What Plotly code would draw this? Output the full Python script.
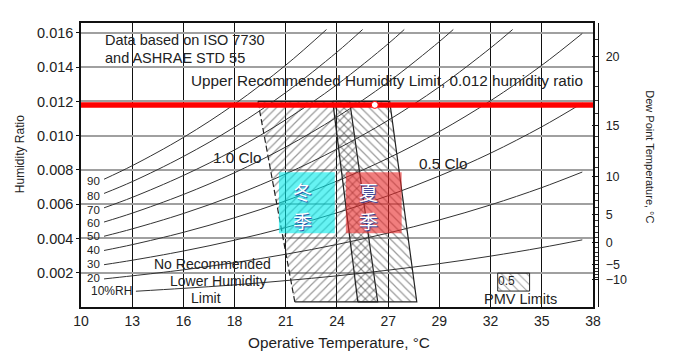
import plotly.graph_objects as go

# ---------------- data ----------------
x_tickvals = [10, 12.78, 15.56, 18.33, 21.11, 23.89, 26.67, 29.44, 32.22, 35.0, 37.78]
x_ticktext = ["10", "13", "16", "18", "21", "24", "27", "29", "32", "35", "38"]
y_tickvals = [0.002, 0.004, 0.006, 0.008, 0.010, 0.012, 0.014, 0.016]
y_ticktext = ["0.002", "0.004", "0.006", "0.008", "0.010", "0.012", "0.014", "0.016"]

dew_labels = ["−10", "−5", "0", "5", "10", "15", "20"]
dew_w = [0.00160, 0.002475, 0.003775, 0.005396, 0.007611, 0.010610, 0.014635]
dew_minor_w = [0.001748, 0.001908, 0.002083, 0.002271, 0.002697, 0.002935, 0.003194,
               0.003474, 0.004059, 0.004362, 0.004685, 0.005029, 0.005786, 0.006201,
               0.006643, 0.007112, 0.008141, 0.008704, 0.009302, 0.009936, 0.011323,
               0.012081, 0.012883, 0.013734, 0.015590]

# relative-humidity curves (operative temp degC, humidity ratio)
rh90_t = [11.25, 12.78, 15.56, 18.33, 21.11, 23.32]
rh90_w = [0.00746, 0.00825, 0.00990, 0.01184, 0.01412, 0.0162]
rh80_t = [11.25, 12.78, 15.56, 18.33, 21.11, 23.89, 25.28]
rh80_w = [0.00663, 0.00732, 0.00879, 0.01050, 0.01252, 0.01488, 0.0162]
rh70_t = [11.25, 12.78, 15.56, 18.33, 21.11, 23.89, 26.67, 27.54]
rh70_w = [0.00579, 0.00640, 0.00768, 0.00917, 0.01093, 0.01298, 0.01537, 0.0162]
rh60_t = [11.25, 12.78, 15.56, 18.33, 21.11, 23.89, 26.67, 29.44, 30.20]
rh60_w = [0.00496, 0.00548, 0.00657, 0.00784, 0.00934, 0.01109, 0.01313, 0.01549, 0.0162]
rh50_t = [11.25, 12.78, 15.56, 18.33, 21.11, 23.89, 26.67, 29.44, 32.22, 33.42]
rh50_w = [0.00413, 0.00456, 0.00546, 0.00652, 0.00777, 0.00922, 0.01090, 0.01285, 0.01512, 0.0162]
rh40_t = [11.25, 12.78, 15.56, 18.33, 21.11, 23.89, 26.67, 29.44, 32.22, 35.0, 37.2]
rh40_w = [0.00330, 0.00364, 0.00436, 0.00521, 0.00620, 0.00735, 0.00869, 0.01024, 0.01204, 0.01411, 0.01597]
rh30_t = [11.25, 12.78, 15.56, 18.33, 21.11, 23.89, 26.67, 29.44, 32.22, 35.0, 37.2]
rh30_w = [0.00247, 0.00273, 0.00327, 0.00390, 0.00464, 0.00550, 0.00650, 0.00765, 0.00898, 0.01052, 0.01190]
rh20_t = [11.25, 12.78, 15.56, 18.33, 21.11, 23.89, 26.67, 29.44, 32.22, 35.0, 37.2]
rh20_w = [0.00164, 0.00182, 0.00217, 0.00259, 0.00308, 0.00365, 0.00432, 0.00508, 0.00596, 0.00697, 0.00788]
rh10_t = [12.98, 15.56, 18.33, 21.11, 23.89, 26.67, 29.44, 32.22, 35.0, 37.2]
rh10_w = [0.00092, 0.00109, 0.00129, 0.00154, 0.00182, 0.00215, 0.00253, 0.00297, 0.00347, 0.00392]

rh_labels = ["90", "80", "70", "60", "50", "40", "30", "20"]
rh_label_w = [0.00734, 0.00647, 0.00566, 0.00489, 0.00414, 0.00332, 0.00251, 0.00169]

# comfort zones (PMV limits): top-left, top-right, bottom-right, bottom-left
clo10_t = [19.6, 24.58, 26.1, 21.6]
clo10_w = [0.012, 0.012, 0.0003, 0.0003]
clo05_t = [23.66, 26.75, 28.22, 25.02]
clo05_w = [0.012, 0.012, 0.0003, 0.0003]

# seasonal boxes
winter_t = [20.74, 23.77]
summer_t = [24.37, 27.40]
season_w = [0.00431, 0.00787]
winter_chars = ["冬", "季"]
summer_chars = ["夏", "季"]

upper_limit_w = 0.0118
x_range = [10, 37.78]
y_range = [0, 0.01658]

FONT = "Liberation Sans, Arial, sans-serif"
INK = "#222222"
BODY = 15.3
STACK = 14

fig = go.Figure()


def zone(tt, ww, shape, left_dash):
    fig.add_trace(go.Scatter(
        x=tt + [tt[0]], y=ww + [ww[0]], mode="lines", fill="toself",
        fillcolor="rgba(0,0,0,0)",
        fillpattern=dict(shape=shape, fgcolor="#333", bgcolor="rgba(0,0,0,0)", size=6, solidity=0.2),
        line=dict(width=0), hoverinfo="skip"))
    fig.add_trace(go.Scatter(x=[tt[3], tt[2], tt[1], tt[0]], y=[ww[3], ww[2], ww[1], ww[0]],
                             mode="lines", line=dict(color="#222", width=1.2), hoverinfo="skip"))
    fig.add_trace(go.Scatter(x=[tt[0], tt[3]], y=[ww[0], ww[3]], mode="lines",
                             line=dict(color="#222", width=1.2, dash=left_dash), hoverinfo="skip"))


zone(clo10_t, clo10_w, "/", "6px,3px")
zone(clo05_t, clo05_w, "\\", "solid")

# RH curves
for tt, ww in [(rh90_t, rh90_w), (rh80_t, rh80_w), (rh70_t, rh70_w), (rh60_t, rh60_w),
               (rh50_t, rh50_w), (rh40_t, rh40_w), (rh30_t, rh30_w), (rh20_t, rh20_w),
               (rh10_t, rh10_w)]:
    fig.add_trace(go.Scatter(x=tt, y=ww, mode="lines", line=dict(color="#333", width=1, shape="spline"),
                             hoverinfo="skip"))

# seasonal boxes
for tt, col in [(winter_t, "rgba(0,235,235,0.6)"), (summer_t, "rgba(232,40,40,0.6)")]:
    fig.add_trace(go.Scatter(
        x=[tt[0], tt[1], tt[1], tt[0], tt[0]],
        y=[season_w[0], season_w[0], season_w[1], season_w[1], season_w[0]],
        mode="lines", fill="toself", fillcolor=col, line=dict(width=0), hoverinfo="skip"))

# upper humidity limit
fig.add_trace(go.Scatter(x=x_range, y=[upper_limit_w, upper_limit_w], mode="lines",
                         line=dict(color="#ff0000", width=5.5), hoverinfo="skip"))
fig.add_trace(go.Scatter(x=[25.94], y=[upper_limit_w], mode="markers",
                         marker=dict(color="white", size=7, line=dict(color="#ff0000", width=1)),
                         hoverinfo="skip"))

# PMV legend box
fig.add_trace(go.Scatter(
    x=[32.61, 34.34, 34.34, 32.61, 32.61], y=[0.00093, 0.00093, 0.00198, 0.00198, 0.00093],
    mode="lines", fill="toself", fillcolor="rgba(0,0,0,0)",
    fillpattern=dict(shape="\\", fgcolor="#444", bgcolor="rgba(0,0,0,0)", size=6, solidity=0.18),
    line=dict(color="#222", width=1), hoverinfo="skip"))

# dew-point axis carrier (invisible)
fig.add_trace(go.Scatter(x=[None], y=[None], yaxis="y2", showlegend=False))

ann = []


def txt(x, y, s, size=BODY, xanchor="center", **kw):
    d = dict(x=x, y=y, xref="x", yref="y", text=s, showarrow=False, xanchor=xanchor,
             yanchor="middle", borderpad=0, font=dict(family=FONT, size=size, color=INK))
    d.update(kw)
    ann.append(d)


txt(11.25, 0.01556, "Data based on ISO 7730", size=STACK + 0.5, xanchor="left")
txt(11.25, 0.01456, "and ASHRAE STD 55", size=STACK + 0.5, xanchor="left")
txt(15.91, 0.01323, "Upper Recommended Humidity Limit, 0.012 humidity ratio", xanchor="left")
txt(18.46, 0.00875, "1.0 Clo")
txt(29.63, 0.00840, "0.5 Clo")
txt(17.16, 0.00250, "No Recommended", size=STACK)
txt(17.43, 0.00152, "Lower Humidity", size=STACK)
txt(16.78, 0.00054, "Limit", size=STACK)
txt(33.86, 0.00044, "PMV Limits", size=STACK + 0.5)
txt(33.10, 0.00150, "0.5", size=12)
for lab, w in zip(rh_labels, rh_label_w):
    txt(10.70, w, lab, size=11.5)
txt(11.63, 0.00093, "10%RH", size=12)

# seasonal characters (one per annotation, stacked vertically)
for xc, chars in [(22.04, winter_chars), (25.62, summer_chars)]:
    for yc, ch in zip([0.006763, 0.005072], chars):
        ann.append(dict(x=xc, y=yc, xref="x", yref="y", text=ch, showarrow=False,
                        xanchor="center", yanchor="middle", borderpad=0,
                        font=dict(family="Noto Sans CJK SC", size=19, color="white",
                                  shadow="1px 1px 1px #1a3fa0")))

# axis titles
ann.append(dict(x=0, xref="paper", xshift=-61, xanchor="center", y=0.00892, yref="y",
                yanchor="middle", text="Humidity Ratio",
                textangle=-90, showarrow=False, font=dict(family=FONT, size=12, color=INK)))
ann.append(dict(x=1, xref="paper", xshift=52, xanchor="center", y=0.0088, yref="y",
                yanchor="middle", text="Dew Point Temperature, °C",
                textangle=90, showarrow=False, font=dict(family=FONT, size=11, color=INK)))
ann.append(dict(x=23.99, xref="x", xanchor="center", y=0, yref="paper", yanchor="middle",
                yshift=-35, text="Operative Temperature, °C",
                showarrow=False, font=dict(family=FONT, size=BODY, color=INK)))

fig.update_layout(
    width=692, height=358,
    margin=dict(l=73, r=102, t=15, b=59, autoexpand=False),
    paper_bgcolor="white", plot_bgcolor="white",
    showlegend=False,
    annotations=ann,
    xaxis=dict(range=x_range, domain=[0, 0.9903], tickvals=x_tickvals, ticktext=x_ticktext,
               showgrid=True, gridcolor="#111", gridwidth=1.3, zeroline=False,
               showline=True, linecolor="#111", linewidth=1.5, mirror=True, ticks="",
               tickfont=dict(family=FONT, size=14, color=INK)),
    yaxis=dict(range=y_range, tickvals=y_tickvals, ticktext=y_ticktext,
               showgrid=True, gridcolor="#a0a0a0", gridwidth=2, zeroline=False,
               showline=True, linecolor="#111", linewidth=1.5, mirror=True,
               ticks="outside", ticklen=3, tickcolor="#111",
               tickfont=dict(family=FONT, size=14.5, color=INK)),
    yaxis2=dict(range=y_range, overlaying="y", side="right", anchor="free", position=1.0,
                tickmode="array", tickvals=dew_w, ticktext=dew_labels, showgrid=False,
                zeroline=False, showline=True, linecolor="#111", linewidth=1.3,
                ticks="inside", ticklen=6, tickcolor="#111", ticklabelstandoff=4,
                minor=dict(tickmode="array", tickvals=dew_minor_w, ticks="inside", ticklen=3,
                           tickcolor="#333"),
                tickfont=dict(family=FONT, size=12.5, color=INK)),
)

fig.write_html("out.html")
